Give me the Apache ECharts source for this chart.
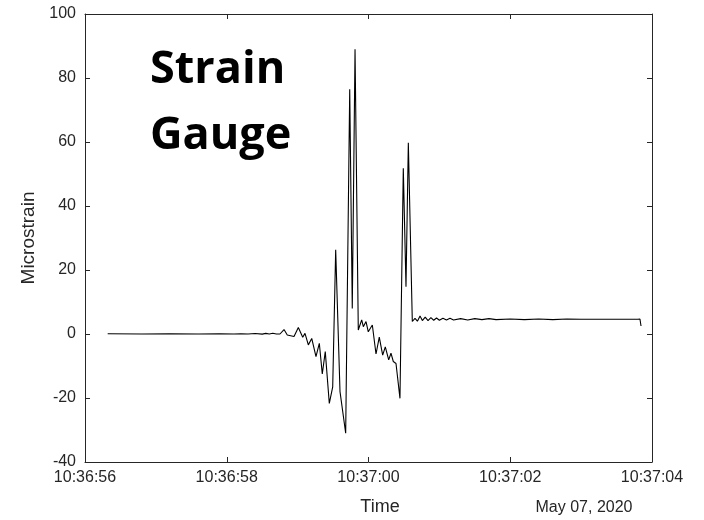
<!DOCTYPE html>
<html>
<head>
<meta charset="utf-8">
<script src="https://cdn.jsdelivr.net/npm/echarts@6/dist/echarts.min.js"></script>
<style>html,body{margin:0;padding:0;background:#fff}#c{width:704px;height:520px}</style>
</head>
<body>
<div id="c"></div>
<script>
// seconds after 10:36:56
var timeSec = [
  0.32, 0.8, 1.2, 1.6, 1.9, 2.1, 2.2, 2.3, 2.4, 2.5, 2.55, 2.6, 2.65, 2.7, 2.751,
  2.808, 2.854, 2.949, 3.010, 3.072, 3.104, 3.151, 3.199, 3.259, 3.306, 3.348, 3.390, 3.447, 3.495,
  3.537, 3.598, 3.626, 3.678, 3.735, 3.771, 3.810, 3.856, 3.866, 3.904, 3.927, 3.965, 3.997, 4.054,
  4.106, 4.152, 4.200, 4.237, 4.285, 4.317, 4.350, 4.388, 4.444, 4.491, 4.529, 4.562, 4.618,
  4.656, 4.69, 4.727, 4.76, 4.80, 4.84, 4.88, 4.92, 4.96, 5.0, 5.05, 5.1, 5.15, 5.2, 5.3, 5.4, 5.5,
  5.6, 5.7, 5.8, 6.0, 6.2, 6.4, 6.6, 6.8, 7.0, 7.2, 7.4, 7.6, 7.8, 7.83, 7.845
];
var strain = [
  0.1, 0.0, 0.1, 0.0, 0.1, 0.0, 0.1, 0.0, 0.15, -0.05, 0.2, 0.0, 0.25, 0.0, 0.0,
  1.4, -0.3, -0.8, 2.0, -1.0, 0.2, -3.4, -1.4, -7.1, -2.9, -12.5, -5.5, -21.7, -16.5,
  26.3, -18.0, -17.5, -31.0, 76.5, 8.0, 89.0, 1.25, 1.25, 4.4, 2.3, 3.9, 0.7, 2.8,
  -6.25, -1.0, -6.6, -4.0, -8.1, -6.0, -8.6, -9.2, -20.1, 51.8, 14.8, 59.8, 3.9,
  4.9, 4.0, 5.6, 4.2, 5.3, 4.2, 5.1, 4.3, 5.0, 4.3, 4.9, 4.4, 4.9, 4.4, 4.8, 4.4, 4.8,
  4.5, 4.8, 4.5, 4.7, 4.5, 4.7, 4.5, 4.7, 4.6, 4.6, 4.6, 4.6, 4.6, 4.7, 2.5
];
var xTickLabels = ['10:36:56', '10:36:58', '10:37:00', '10:37:02', '10:37:04'];
var yTicks = [-40, -20, 0, 20, 40, 60, 80, 100];

var data = timeSec.map(function (t, i) { return [t, strain[i]]; });
var axisColor = '#262626';
function axisCommon() {
  return {
    axisLine: { onZero: false, lineStyle: { color: axisColor, width: 1 } },
    axisTick: { inside: true, length: 5, lineStyle: { color: axisColor } },
    splitLine: { show: false }
  };
}
var chart = echarts.init(document.getElementById('c'), null, { renderer: 'canvas' });
chart.setOption({
  animation: false,
  backgroundColor: '#fff',
  textStyle: { fontFamily: 'Liberation Sans' },
  grid: { left: 85, right: 52, top: 14, bottom: 58, containLabel: false },
  xAxis: [Object.assign(axisCommon(), {
    type: 'value', min: 0, max: 8, interval: 2, position: 'bottom',
    axisLabel: { color: axisColor, fontSize: 16, margin: 8,
      formatter: function (v) { return xTickLabels[Math.round(v / 2)]; } }
  }), Object.assign(axisCommon(), {
    type: 'value', min: 0, max: 8, interval: 2, position: 'top',
    axisLabel: { show: false }
  })],
  yAxis: [Object.assign(axisCommon(), {
    type: 'value', min: yTicks[0], max: yTicks[yTicks.length - 1], interval: 20, position: 'left',
    name: 'Microstrain', nameLocation: 'middle', nameGap: 44,
    nameTextStyle: { color: axisColor, fontSize: 19 },
    axisLabel: { color: axisColor, fontSize: 16, margin: 9 }
  }), Object.assign(axisCommon(), {
    type: 'value', min: yTicks[0], max: yTicks[yTicks.length - 1], interval: 20, position: 'right',
    axisLabel: { show: false }
  })],
  graphic: [
    { type: 'text', left: 150, top: 48, style: { text: 'Strain', font: 'bold 45px "Open Sans"', fill: '#000' } },
    { type: 'text', left: 150, top: 114, style: { text: 'Gauge', font: 'bold 45px "Open Sans"', fill: '#000' } },
    { type: 'text', x: 380, y: 507, style: { text: 'Time', font: '18px "Liberation Sans"', fill: axisColor, align: 'center', verticalAlign: 'middle' } },
    { type: 'text', x: 584, y: 508, style: { text: 'May 07, 2020', font: '16px "Liberation Sans"', fill: axisColor, align: 'center', verticalAlign: 'middle' } }
  ],
  series: [{
    type: 'line', data: data, showSymbol: false, symbol: 'none',
    lineStyle: { color: '#000', width: 1.1 }, xAxisIndex: 0, yAxisIndex: 0
  }]
});
</script>
</body>
</html>
